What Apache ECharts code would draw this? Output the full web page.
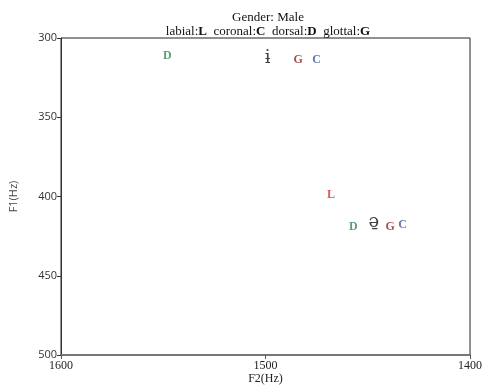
<!DOCTYPE html>
<html><head><meta charset="utf-8">
<script src="https://cdn.jsdelivr.net/npm/echarts@6/dist/echarts.min.js"></script>
<style>html,body{margin:0;padding:0;background:#fff}#c{width:484px;height:385px}</style>
</head><body><div id="c"></div>
<script>
var symbols = ['D', 'ɨ', 'G', 'C', 'L', 'D', 'ə̱', 'G', 'C'];
var f2Values = [1548, 1499, 1484, 1475, 1468, 1457, 1447, 1439, 1433];
var f1Values = [311, 313, 314, 314, 399, 419, 416, 419, 418];
var xTicks = [1600, 1500, 1400];
var yTicks = [300, 350, 400, 450, 500];
var colorBySymbol = {D: '#2f8a4a', G: '#8e2420', C: '#41559a', L: '#d42e33', 'ɨ': '#111', 'ə̱': '#111'};

var data = symbols.map(function (s, i) {
  var ipa = (s === 'ɨ' || s === 'ə̱');
  return {
    value: [f2Values[i], f1Values[i]],
    label: {
      formatter: s,
      color: colorBySymbol[s],
      fontFamily: ipa ? 'DejaVu Serif' : 'Liberation Serif',
      fontSize: ipa ? 18 : 12,
      fontWeight: ipa ? 'normal' : 'bold'
    }
  };
});

var chart = echarts.init(document.getElementById('c'));
chart.setOption({
  animation: false,
  title: {
    text: 'Gender: Male',
    subtext: 'labial:{b|L}  coronal:{b|C}  dorsal:{b|D}  glottal:{b|G}',
    left: 263, textAlign: 'center', top: 6, itemGap: 1,
    textStyle: {fontFamily: 'Liberation Serif', fontSize: 13, fontWeight: 'normal', color: '#111'},
    subtextStyle: {fontFamily: 'Liberation Serif', fontSize: 13, color: '#111',
      rich: {b: {fontFamily: 'Liberation Serif', fontSize: 13, fontWeight: 'bold', color: '#111'}}}
  },
  grid: {left: 61, right: 14, top: 38, bottom: 30, show: true, borderColor: '#222', borderWidth: 1,
    outerBoundsMode: 'none', containLabel: false},
  xAxis: {
    type: 'value', inverse: true, min: 1400, max: 1600, interval: 100,
    name: 'F2(Hz)', nameLocation: 'middle', nameGap: 18, nameMoveOverlap: false,
    nameTextStyle: {fontFamily: 'Liberation Serif', fontSize: 12, color: '#222'},
    axisLine: {lineStyle: {color: '#777', width: 2}},
    axisTick: {show: true, length: 4, lineStyle: {color: '#555'}},
    axisLabel: {fontFamily: 'Liberation Serif', fontSize: 12, color: '#222', margin: 5,
      formatter: function (v) { return xTicks.indexOf(v) >= 0 ? String(v) : ''; }},
    splitLine: {show: false}
  },
  yAxis: {
    type: 'value', inverse: true, min: 300, max: 500, interval: 50,
    name: 'F1(Hz)', nameLocation: 'middle', nameGap: 42, nameRotate: 90, nameMoveOverlap: false,
    nameTextStyle: {fontFamily: 'Open Sans', fontSize: 11, color: '#444'},
    axisLine: {lineStyle: {color: '#333', width: 1}},
    axisTick: {show: true, length: 4, lineStyle: {color: '#333'}},
    axisLabel: {fontFamily: 'Open Sans', fontSize: 11, color: '#333', margin: 4,
      formatter: function (v) { return yTicks.indexOf(v) >= 0 ? String(v) : ''; }},
    splitLine: {show: false}
  },
  series: [{
    type: 'scatter', symbolSize: 0, data: data,
    label: {show: true, position: 'inside'}
  }]
});
</script></body></html>
